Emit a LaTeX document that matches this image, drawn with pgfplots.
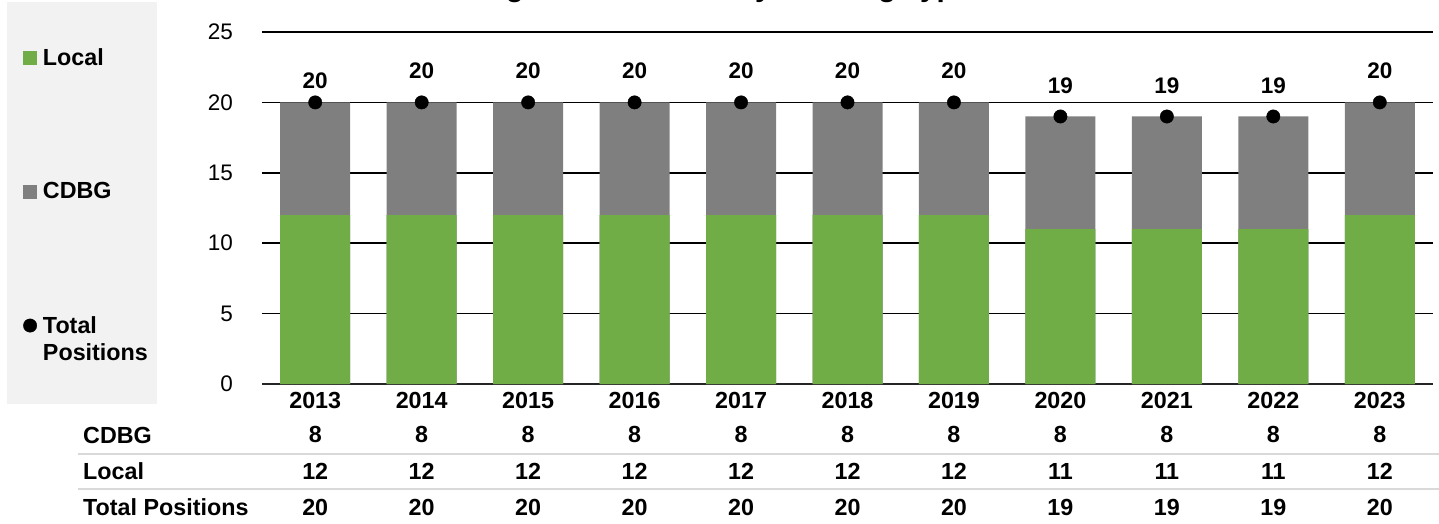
\documentclass[border=0pt]{standalone}
\usepackage{fontspec}
\setmainfont{Liberation Sans}
\usepackage{pgfplots}
\usepackage{pgfplotstable}
\pgfplotsset{compat=1.18}
\definecolor{lgreen}{HTML}{70AD47}
\definecolor{dgrey}{HTML}{7F7F7F}
\definecolor{legbg}{HTML}{F2F2F2}
\definecolor{sepline}{HTML}{D9D9D9}
\pgfplotstableread{
x cdbg local total loff
0 8 12 20 14
1 8 12 20 24
2 8 12 20 24
3 8 12 20 24
4 8 12 20 24
5 8 12 20 24
6 8 12 20 24
7 8 11 19 23
8 8 11 19 23
9 8 11 19 23
10 8 12 20 24
}\data
\newcommand{\lbl}{\fontsize{23.3}{27}\selectfont\bfseries}
\begin{document}
\begin{tikzpicture}
\fill[legbg] (7pt,119pt) rectangle (157pt,521pt);
\node[anchor=base west, font=\fontsize{29.5}{34}\selectfont\bfseries, inner sep=0pt] at (414pt,526.2pt) {Staffing FTE Positions by Funding Type};
\begin{axis}[
  at={(262pt,139pt)}, anchor=south west,
  scale only axis, width=1171pt, height=352pt,
  xmin=-0.5, xmax=10.5, ymin=0, ymax=25,
  ytick={0,5,...,25}, xtick={0,...,10},
  xticklabels={2013,2014,2015,2016,2017,2018,2019,2020,2021,2022,2023},
  major tick length=0pt,
  axis x line*=bottom, axis y line*=left,
  x axis line style={line width=2.4pt, color=black!85},
  y axis line style={draw=none},
  ymajorgrids, grid style={black, line width=1.5pt},
  clip=false,
  /pgf/number format/assume math mode=true,
  yticklabel style={font=\fontsize{22.5}{26}\selectfont, anchor=east, inner sep=0pt, xshift=-29pt},
  xticklabel style={font=\lbl, anchor=base, inner sep=0pt, yshift=-24pt},
  legend style={at={(axis description cs:-0.2041,0.9545)}, anchor=north west, draw=none, fill=none, inner sep=0pt, row sep=116pt, column sep=6pt, font=\lbl, nodes={inner sep=0pt}},
  legend cell align=left,
]
\addplot[ybar, bar width=70pt, bar shift=0pt, fill=dgrey, draw=none, forget plot] table[x=x, y expr=\thisrow{local}+\thisrow{cdbg}] {\data};
\addplot[ybar, bar width=70pt, bar shift=0pt, fill=lgreen, draw=none, forget plot] table[x=x, y=local] {\data};
\addplot[only marks, mark=*, mark size=6.7pt, color=black, forget plot,
  nodes near coords, point meta=explicit,
  visualization depends on={\thisrow{loff} \as \loff},
  every node near coord/.append style={font=\fontsize{22.5}{26}\selectfont\bfseries, anchor=base, inner sep=0pt, yshift=\loff pt}]
  table[x=x, y=total, meta=total] {\data};
\addplot[draw=none, mark=none, forget plot, nodes near coords, point meta=explicit,
  every node near coord/.append style={font=\lbl, anchor=base, inner sep=0pt, black}]
  table[x=x, y expr=-4.19, meta=cdbg] {\data};
\addplot[draw=none, mark=none, forget plot, nodes near coords, point meta=explicit,
  every node near coord/.append style={font=\lbl, anchor=base, inner sep=0pt, black}]
  table[x=x, y expr=-6.747, meta=local] {\data};
\addplot[draw=none, mark=none, forget plot, nodes near coords, point meta=explicit,
  every node near coord/.append style={font=\lbl, anchor=base, inner sep=0pt, black}]
  table[x=x, y expr=-9.304, meta=total] {\data};
\addlegendimage{legend image code/.code={\fill[lgreen] (0pt,-6.5pt) rectangle (13pt,6.5pt);}}
\addlegendentry{Local}
\addlegendimage{legend image code/.code={\fill[dgrey] (0pt,-6.5pt) rectangle (13pt,6.5pt);}}
\addlegendentry{CDBG}
\addlegendimage{legend image code/.code={\fill[black] (6.5pt,0pt) circle (6.7pt);}}
\addlegendentry{\parbox[t]{120pt}{\raggedright Total\\Positions}}
\end{axis}
\draw[sepline, line width=2pt] (78pt,69pt) -- (1439pt,69pt);
\draw[sepline, line width=2pt] (78pt,34pt) -- (1439pt,34pt);
\node[anchor=base west, inner sep=0pt, font=\lbl] at (83pt,80pt) {CDBG};
\node[anchor=base west, inner sep=0pt, font=\lbl] at (83pt,44pt) {Local};
\node[anchor=base west, inner sep=0pt, font=\lbl] at (83pt,8pt) {Total Positions};
\pgfresetboundingbox
\useasboundingbox (0pt,0pt) rectangle (1439pt,523pt);
\end{tikzpicture}
\end{document}
